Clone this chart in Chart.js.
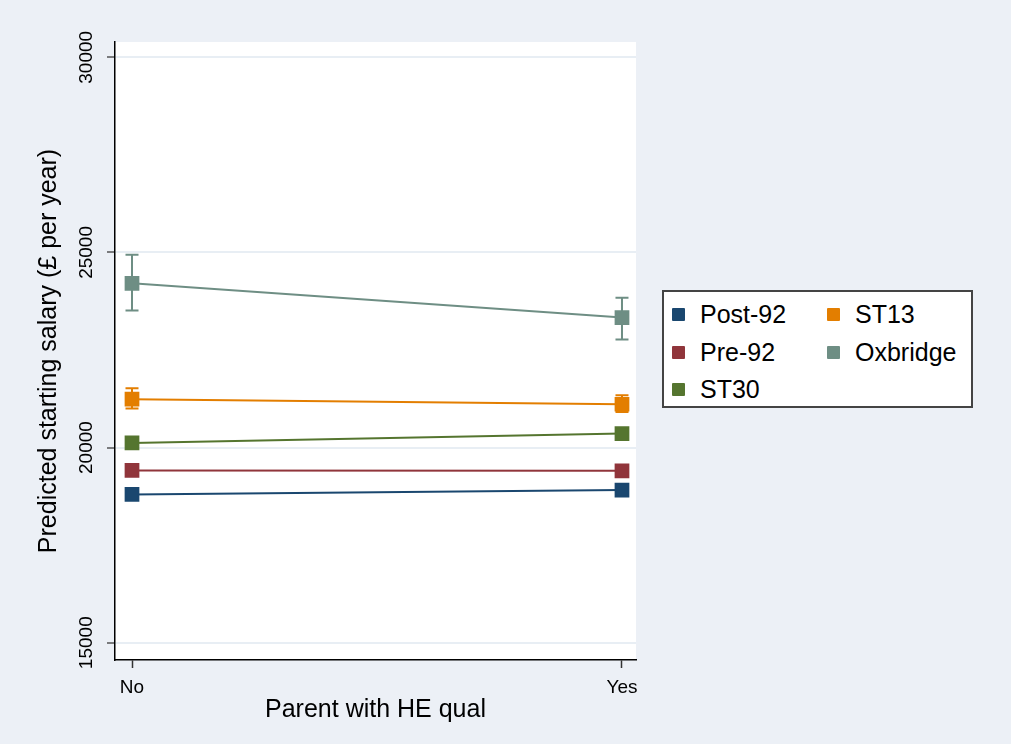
<!DOCTYPE html>
<html>
<head>
<meta charset="utf-8">
<script src="https://cdn.jsdelivr.net/npm/chart.js@4.4.1/dist/chart.umd.min.js"></script>
<style>
  body { margin: 0; background: #ECF0F6; }
  #wrap { position: relative; width: 1011px; height: 744px; }
  #legend {
    position: absolute; left: 662px; top: 290px; width: 307px; height: 114px;
    border: 2px solid #444; background: #fff;
    font-family: 'Liberation Sans', Arial, sans-serif; font-size: 25px; color: #000;
  }
  .item { position: absolute; height: 28px; display: flex; align-items: center; white-space: nowrap; }
  .swatch { width: 13px; height: 13px; margin-right: 15px; border-radius: 1px; }
</style>
</head>
<body>
<div id="wrap">
  <canvas id="chart" width="1011" height="744"></canvas>
  <div id="legend"></div>
</div>
<script>
const FONT = "'Liberation Sans', Arial, sans-serif";

const categories = ['No', 'Yes'];
const xValues = [0, 1];
const yTicks = [15000, 20000, 25000, 30000];

const seriesNames = ['Post-92', 'Pre-92', 'ST30', 'ST13', 'Oxbridge'];
const seriesColors = ['#1a476f', '#90353b', '#55752f', '#e37e00', '#6e8e84'];

// predicted salary and 95% CI bounds, No / Yes
const post92 = [18800, 18910];
const post92Low = [18720, 18830];
const post92High = [18880, 18990];

const pre92 = [19415, 19405];
const pre92Low = [19320, 19300];
const pre92High = [19510, 19510];

const st30 = [20120, 20360];
const st30Low = [19990, 20230];
const st30High = [20250, 20490];

const st13 = [21240, 21110];
const st13Low = [21000, 20910];
const st13High = [21520, 21340];

const oxbridge = [24210, 23330];
const oxbridgeLow = [23510, 22770];
const oxbridgeHigh = [24940, 23840];

const seriesValues = [post92, pre92, st30, st13, oxbridge];
const seriesLow = [post92Low, pre92Low, st30Low, st13Low, oxbridgeLow];
const seriesHigh = [post92High, pre92High, st30High, st13High, oxbridgeHigh];

const datasets = seriesNames.map((name, i) => ({
  label: name,
  data: seriesValues[i].map((v, j) => ({ x: xValues[j], y: v })),
  low: seriesLow[i],
  high: seriesHigh[i],
  borderColor: seriesColors[i],
  backgroundColor: seriesColors[i],
  borderWidth: 2,
  pointStyle: 'rect',
  pointRadius: 9,
  pointHoverRadius: 9,
  tension: 0
}));

// grey page, white plot region
const background = {
  id: 'background',
  beforeDraw(chart) {
    const { ctx, chartArea: a } = chart;
    ctx.save();
    ctx.fillStyle = '#ECF0F6';
    ctx.fillRect(0, 0, chart.width, chart.height);
    ctx.fillStyle = '#FFFFFF';
    ctx.fillRect(a.left, a.top, a.right - a.left, a.bottom - a.top);
    ctx.restore();
  }
};

// capped CI bars, drawn under the markers
const errorBars = {
  id: 'errorBars',
  beforeDatasetsDraw(chart) {
    const { ctx, scales: { x, y } } = chart;
    chart.data.datasets.forEach(ds => {
      ctx.save();
      ctx.strokeStyle = ds.borderColor;
      ctx.lineWidth = 2;
      ds.data.forEach((p, j) => {
        const px = x.getPixelForValue(p.x);
        const top = y.getPixelForValue(ds.high[j]);
        const bot = y.getPixelForValue(ds.low[j]);
        ctx.beginPath();
        ctx.moveTo(px, top); ctx.lineTo(px, bot);
        ctx.moveTo(px - 6.5, top); ctx.lineTo(px + 6.5, top);
        ctx.moveTo(px - 6.5, bot); ctx.lineTo(px + 6.5, bot);
        ctx.stroke();
      });
      ctx.restore();
    });
  }
};

new Chart(document.getElementById('chart'), {
  type: 'line',
  data: { datasets },
  options: {
    responsive: false,
    animation: false,
    layout: { padding: { top: 42, right: 375, left: 0, bottom: 0 } },
    plugins: { legend: { display: false }, tooltip: { enabled: false } },
    scales: {
      x: {
        type: 'linear', min: -0.0347, max: 1.0286,
        afterBuildTicks: s => { s.ticks = xValues.map(v => ({ value: v })); },
        afterFit: s => { s.height = 84; },
        ticks: { callback: v => categories[v], color: '#000', padding: 8, maxRotation: 0, font: { size: 19, family: FONT } },
        grid: { drawOnChartArea: false, tickLength: 8, tickColor: '#333', tickWidth: 1.5 },
        border: { color: '#000', width: 1.5 },
        title: { display: true, text: 'Parent with HE qual', color: '#000', font: { size: 25, family: FONT }, padding: { top: 0, bottom: 19 } }
      },
      y: {
        min: 14557, max: 30392,
        afterBuildTicks: s => { s.ticks = yTicks.map(v => ({ value: v })); },
        afterFit: s => { s.width = 115; },
        ticks: { callback: v => String(v), color: '#000', minRotation: 90, maxRotation: 90, crossAlign: 'center', padding: -6, font: { size: 19, family: FONT } },
        grid: { color: '#E8EEF4', lineWidth: 2, tickLength: 8, tickColor: '#555', tickWidth: 1.5 },
        border: { color: '#000', width: 1.5 },
        title: { display: true, text: 'Predicted starting salary (£ per year)', color: '#000', font: { size: 25, family: FONT }, padding: { top: 34, bottom: 0 } }
      }
    }
  },
  plugins: [background, errorBars]
});

// two-column legend, filled down each column
const legend = document.getElementById('legend');
seriesNames.forEach((name, i) => {
  const item = document.createElement('div');
  item.className = 'item';
  item.style.left = (i < 3 ? 8 : 163) + 'px';
  item.style.top = (8.5 + (i % 3) * 37.5) + 'px';
  const sw = document.createElement('span');
  sw.className = 'swatch';
  sw.style.background = seriesColors[i];
  const label = document.createElement('span');
  label.textContent = name;
  item.append(sw, label);
  legend.appendChild(item);
});
</script>
</body>
</html>
